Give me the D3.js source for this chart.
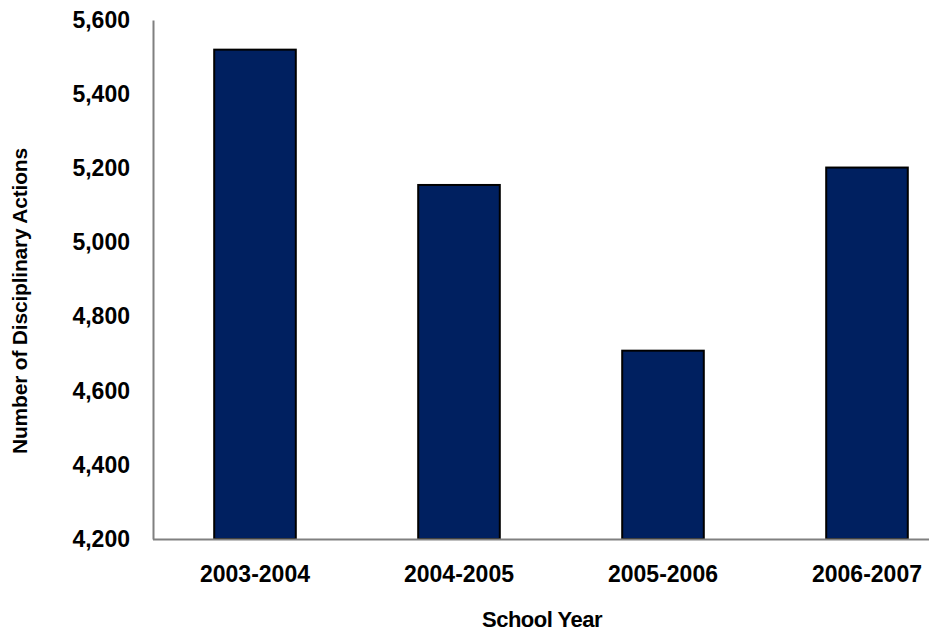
<!DOCTYPE html>
<html><head><meta charset="utf-8">
<script src="https://cdn.jsdelivr.net/npm/d3@7"></script>
<style>body{margin:0;background:#fff}svg{display:block}text{font-family:"Liberation Sans",Arial,sans-serif;font-weight:bold;fill:#000}</style>
</head><body>
<svg id="c" width="929" height="632"></svg>
<script>
const categories = ["2003-2004","2004-2005","2005-2006","2006-2007"];
const values = [5520, 5155, 4708, 5202];
const yTicks = [4200,4400,4600,4800,5000,5200,5400,5600];
const yTitle = "Number of Disciplinary Actions";
const xTitle = "School Year";

const svg = d3.select("#c");
const x0 = 153, step = 204;
const x = d3.scaleBand().domain(categories).range([x0, x0 + step*categories.length]).paddingInner(0.6).paddingOuter(0.3);
const y = d3.scaleLinear().domain([4200,5600]).range([539,20]);

// bars
svg.append("g").selectAll("rect").data(values).join("rect")
  .attr("x",(d,i)=>x(categories[i])).attr("width",x.bandwidth())
  .attr("y",d=>y(d)).attr("height",d=>y(4200)-y(d))
  .attr("fill","#002060").attr("stroke","#000").attr("stroke-width",2);

// y axis
const ya = svg.append("g").attr("transform",`translate(${x0},0)`)
  .call(d3.axisLeft(y).tickValues(yTicks).tickSize(0).tickPadding(23).tickFormat(d3.format(",")));
ya.select(".domain").attr("stroke","#808080").attr("stroke-width",2);
ya.selectAll("text").attr("font-size",23).attr("font-family","Liberation Sans, Arial").attr("font-weight","bold");

// x axis
const xa = svg.append("g").attr("transform",`translate(0,${y(4200)})`)
  .call(d3.axisBottom(x).tickSize(0).tickPadding(27));
xa.select(".domain").attr("d",`M${x0},0.5H929`).attr("stroke","#808080").attr("stroke-width",2);
xa.selectAll("text").attr("font-size",23).attr("font-family","Liberation Sans, Arial").attr("font-weight","bold");

svg.append("text").attr("transform","translate(27,301) rotate(-90)").attr("text-anchor","middle")
  .attr("font-size",21).attr("letter-spacing",-0.2).text(yTitle);
svg.append("text").attr("x",542).attr("y",627).attr("text-anchor","middle").attr("font-size",22).attr("letter-spacing",-0.5).text(xTitle);
</script>
</body></html>
